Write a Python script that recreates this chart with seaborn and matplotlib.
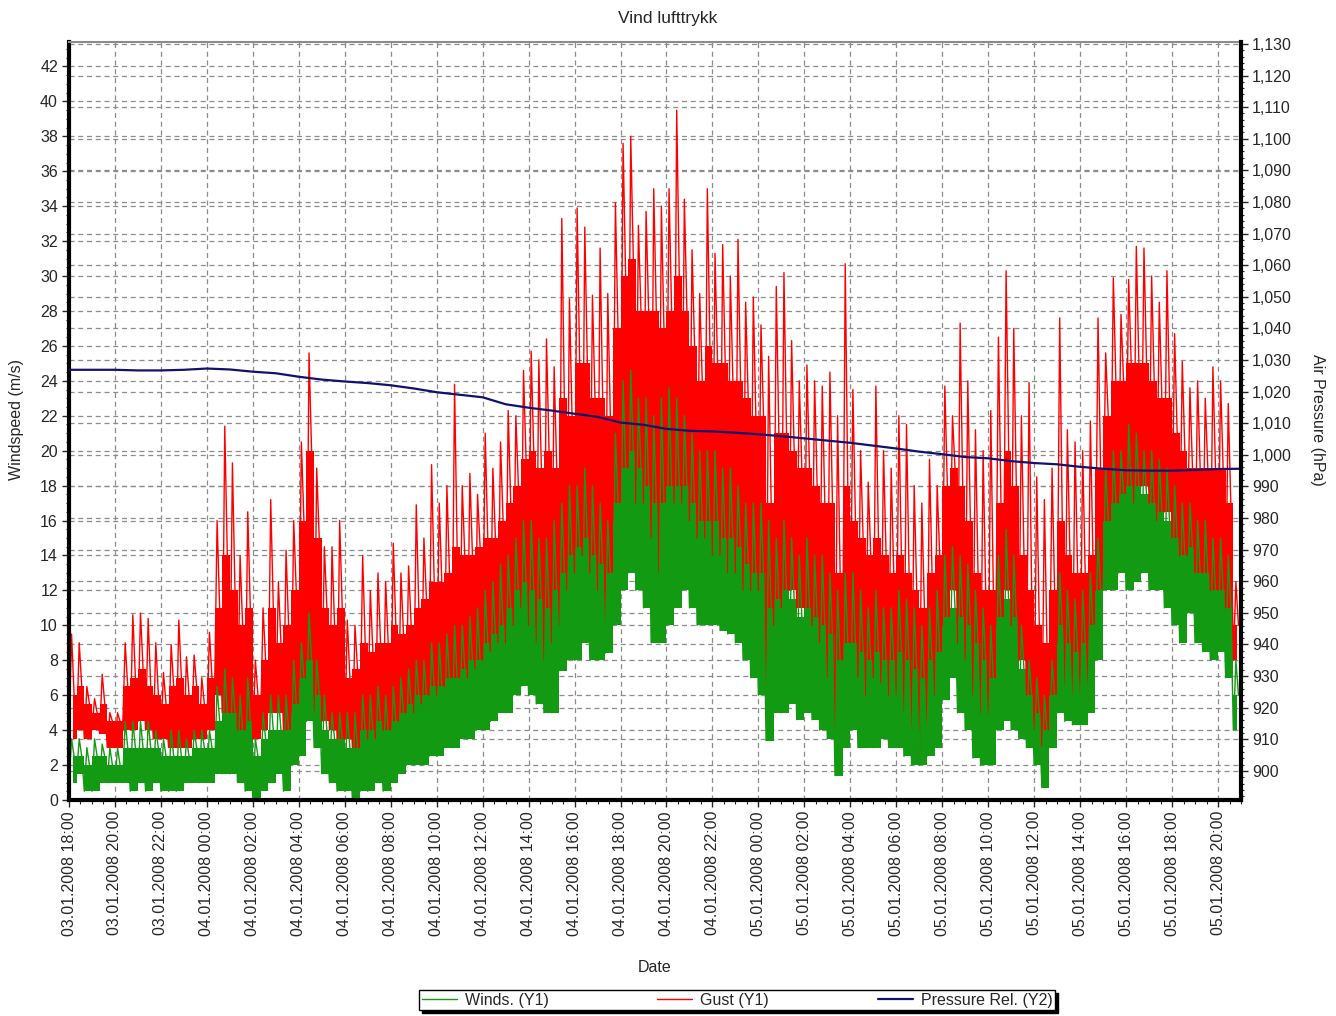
import numpy as np
import pandas as pd
import matplotlib
matplotlib.use("Agg")
import matplotlib.pyplot as plt
import matplotlib.dates as mdates
from matplotlib.ticker import MultipleLocator, FuncFormatter
import seaborn as sns

sns.set_style("white")
plt.rcParams['font.family'] = ['Liberation Sans', 'DejaVu Sans']

# 20 minute blocks from 03.01.2008 18:00 (m/s): lowest reading, highest spike,
# and the top of the dense part of the trace in each block
gust_high = [9.5, 9.0, 6.5, 5.8, 7.2, 5.0, 5.0, 9.0, 10.6, 10.7, 10.4, 9.0,
             7.3, 8.9, 10.3, 8.2, 8.3, 7.0, 9.6, 16.0, 21.4, 19.3, 14.0, 16.5,
             8.0, 11.0, 17.2, 12.5, 14.3, 16.0, 20.5, 25.6, 19.0, 14.5, 14.5, 16.0,
             10.3, 10.0, 14.0, 12.0, 13.0, 12.5, 14.7, 13.0, 13.4, 16.9, 15.0, 19.2,
             17.0, 18.0, 23.8, 18.0, 18.7, 17.5, 21.0, 19.0, 20.5, 22.3, 22.0, 24.6,
             25.7, 25.2, 26.4, 24.8, 33.3, 28.7, 33.9, 32.8, 28.9, 31.6, 29.0, 34.2,
             37.6, 38.0, 32.9, 33.7, 35.0, 34.0, 35.0, 39.5, 34.4, 31.5, 29.0, 35.0,
             31.3, 31.8, 30.0, 32.1, 28.5, 28.8, 27.2, 25.4, 29.4, 30.2, 26.3, 24.0,
             24.9, 24.0, 23.7, 24.5, 22.0, 30.7, 23.5, 20.0, 18.2, 23.7, 20.0, 19.0,
             22.0, 21.5, 18.0, 17.0, 19.5, 18.0, 23.7, 22.0, 27.3, 24.0, 21.2, 20.0,
             22.3, 26.5, 30.3, 27.0, 22.0, 23.9, 18.5, 17.2, 19.0, 27.6, 21.2, 20.5,
             20.0, 21.7, 27.6, 25.6, 29.9, 27.8, 29.8, 31.7, 31.6, 30.0, 28.5, 30.3,
             26.7, 25.1, 23.6, 24.0, 23.0, 24.8, 24.0, 22.7, 12.5]
gust_core = [6.0, 6.5, 5.5, 5.0, 5.5, 4.5, 4.5, 6.5, 7.0, 7.5, 6.5, 6.0,
             5.5, 6.5, 7.0, 6.0, 6.5, 5.5, 7.0, 11.0, 14.0, 12.0, 10.0, 11.0,
             6.0, 8.0, 11.0, 9.0, 10.0, 12.0, 16.0, 20.0, 15.0, 11.0, 10.0, 11.0,
             7.0, 7.5, 9.0, 8.5, 9.0, 9.0, 10.0, 9.5, 10.0, 11.0, 11.5, 12.5,
             12.5, 13.0, 14.5, 14.0, 14.0, 14.5, 15.0, 15.0, 16.0, 17.0, 18.0, 19.5,
             20.0, 19.0, 20.0, 19.0, 23.0, 22.0, 25.0, 25.0, 23.0, 23.0, 22.0, 27.0,
             30.0, 31.0, 28.0, 28.0, 28.0, 27.0, 28.0, 30.0, 28.0, 26.0, 24.0, 26.0,
             25.0, 25.0, 24.0, 24.0, 23.0, 22.0, 22.0, 17.0, 21.0, 21.0, 20.0, 19.0,
             19.0, 18.0, 17.0, 17.0, 13.0, 18.0, 16.0, 15.0, 14.0, 15.0, 14.0, 13.0,
             14.0, 13.0, 12.0, 11.0, 13.0, 14.0, 18.0, 19.0, 18.0, 16.0, 13.0, 12.0,
             12.0, 17.0, 20.0, 18.0, 14.0, 12.0, 10.0, 9.0, 12.0, 16.0, 14.0, 13.0,
             13.0, 14.0, 19.0, 22.0, 24.0, 24.0, 25.0, 25.0, 25.0, 24.0, 23.0, 23.0,
             21.0, 20.0, 19.0, 19.0, 19.0, 19.0, 19.0, 17.0, 10.0]
gust_low = [3.5, 4.0, 3.5, 4.0, 3.8, 3.0, 3.0, 4.0, 4.0, 4.5, 4.0, 3.5,
            3.5, 3.0, 3.0, 3.0, 3.5, 3.5, 4.0, 6.0, 5.0, 5.0, 4.0, 4.0,
            3.5, 4.0, 5.0, 5.0, 4.0, 5.0, 6.5, 8.0, 5.0, 4.5, 4.0, 3.5,
            3.5, 3.0, 4.0, 3.5, 3.5, 4.0, 4.0, 4.5, 5.0, 5.0, 5.5, 6.0,
            6.0, 6.5, 7.0, 7.0, 7.0, 7.5, 8.0, 8.5, 9.0, 9.0, 10.0, 11.0,
            10.0, 9.0, 8.0, 9.0, 10.0, 12.0, 13.0, 14.0, 13.0, 12.0, 10.0, 16.0,
            18.0, 19.0, 17.0, 17.0, 15.0, 13.0, 18.0, 17.0, 17.0, 16.0, 15.0, 15.0,
            14.0, 14.0, 13.0, 13.0, 12.0, 12.0, 12.0, 5.8, 10.0, 11.0, 12.0, 11.0,
            11.0, 10.0, 9.0, 7.0, 2.6, 8.0, 9.0, 7.0, 6.0, 7.0, 6.7, 6.0,
            6.0, 5.0, 4.0, 2.4, 4.0, 6.0, 10.0, 12.0, 9.0, 8.0, 6.0, 5.0,
            5.0, 10.0, 12.0, 10.0, 8.0, 6.0, 4.0, 3.1, 6.0, 9.0, 6.5, 6.0,
            6.0, 5.7, 12.0, 16.0, 17.0, 17.0, 18.0, 17.0, 18.0, 17.0, 16.0, 16.5,
            15.0, 14.0, 14.0, 13.0, 13.0, 12.0, 12.0, 11.0, 8.0]
wind_high = [3.5, 3.5, 3.0, 3.5, 3.2, 3.0, 3.0, 4.5, 4.5, 4.5, 4.5, 4.0,
             3.5, 4.0, 4.0, 3.5, 4.0, 4.0, 4.0, 6.5, 7.5, 7.0, 6.0, 7.0,
             3.5, 5.0, 6.0, 6.0, 6.0, 8.0, 9.0, 10.7, 8.0, 6.0, 5.0, 5.0,
             5.0, 5.0, 6.0, 6.0, 6.5, 6.0, 6.5, 7.0, 7.5, 8.0, 8.0, 9.0,
             9.0, 9.5, 10.0, 10.0, 10.5, 11.0, 12.0, 12.5, 13.5, 14.0, 15.0, 16.0,
             16.0, 15.0, 15.0, 16.0, 17.0, 18.0, 18.0, 19.0, 18.0, 17.0, 16.0, 21.0,
             24.0, 24.6, 23.0, 23.0, 22.0, 23.0, 23.6, 23.0, 22.0, 21.0, 20.0, 20.0,
             20.0, 19.0, 19.0, 18.0, 17.0, 17.0, 17.0, 16.0, 15.0, 16.0, 15.0, 14.0,
             15.0, 14.0, 14.0, 13.0, 12.0, 13.0, 13.0, 12.0, 11.0, 12.0, 11.0, 11.0,
             12.0, 11.5, 11.0, 10.0, 11.0, 12.0, 14.0, 14.5, 14.0, 13.5, 12.0, 11.0,
             10.0, 14.0, 15.5, 14.0, 10.0, 8.0, 7.0, 6.0, 8.0, 13.0, 12.0, 11.5,
             12.0, 13.0, 15.0, 19.0, 20.0, 20.0, 21.5, 21.0, 20.0, 20.0, 19.5, 19.0,
             18.0, 17.0, 17.0, 16.0, 16.0, 15.0, 15.0, 14.0, 8.0]
wind_core = [2.5, 2.5, 2.0, 2.5, 2.5, 2.0, 2.0, 3.0, 3.0, 3.0, 3.0, 3.0,
             2.5, 2.5, 2.5, 2.5, 3.0, 3.0, 3.0, 4.5, 5.0, 5.0, 4.0, 4.5,
             2.5, 3.5, 4.0, 4.0, 4.0, 5.5, 7.0, 8.0, 6.0, 4.0, 3.5, 3.5,
             3.0, 3.0, 4.0, 4.0, 4.5, 4.0, 4.5, 5.0, 5.5, 6.0, 6.0, 6.5,
             6.5, 7.0, 7.0, 7.5, 8.0, 8.0, 9.0, 9.5, 10.0, 11.0, 12.0, 12.5,
             12.0, 11.5, 11.0, 12.0, 13.0, 14.0, 14.5, 15.0, 14.0, 13.5, 13.0, 17.0,
             19.0, 20.0, 19.0, 18.0, 17.0, 17.0, 18.0, 18.0, 18.0, 17.0, 16.0, 16.0,
             16.0, 15.0, 15.0, 14.5, 13.5, 13.0, 13.0, 11.0, 11.5, 12.0, 11.5, 10.5,
             11.0, 10.5, 10.0, 9.5, 8.0, 9.0, 9.0, 8.5, 8.0, 8.5, 8.0, 8.0,
             8.5, 8.0, 7.5, 7.0, 8.0, 8.5, 10.5, 11.0, 10.5, 10.0, 9.0, 8.0,
             7.0, 10.5, 11.5, 10.5, 7.5, 6.0, 5.0, 4.0, 6.0, 10.0, 9.0, 8.5,
             9.0, 10.0, 12.0, 16.0, 17.0, 17.5, 18.0, 18.0, 17.5, 17.0, 16.5, 16.0,
             15.0, 14.0, 14.5, 13.0, 13.0, 12.0, 12.0, 11.0, 6.0]
wind_low = [1.0, 1.5, 0.5, 0.5, 1.0, 1.0, 1.0, 1.0, 0.5, 1.0, 0.5, 1.0,
            0.5, 0.5, 0.5, 1.0, 1.0, 1.0, 1.0, 1.5, 1.5, 1.5, 1.0, 0.5,
            0.0, 0.5, 1.0, 1.5, 0.5, 2.0, 2.5, 4.5, 3.0, 1.5, 1.0, 0.5,
            0.5, 0.0, 0.5, 0.5, 1.0, 0.5, 1.0, 1.5, 2.0, 2.0, 2.0, 2.5,
            2.5, 3.0, 3.0, 3.5, 3.5, 4.0, 4.0, 4.5, 5.0, 5.0, 6.0, 6.5,
            6.0, 5.5, 5.0, 5.0, 7.4, 8.0, 8.0, 9.0, 8.0, 8.0, 8.4, 10.0,
            12.0, 13.0, 12.0, 11.0, 9.0, 9.0, 10.0, 11.0, 12.0, 11.0, 10.0, 10.0,
            10.0, 9.7, 9.5, 9.0, 8.0, 7.0, 6.0, 3.4, 5.0, 5.0, 5.5, 4.6,
            5.0, 4.6, 4.0, 3.5, 1.4, 3.0, 4.0, 3.0, 3.0, 3.0, 3.5, 3.0,
            3.0, 2.5, 2.0, 2.0, 2.5, 3.0, 5.7, 7.0, 5.0, 4.0, 2.4, 2.0,
            2.0, 4.0, 4.5, 4.0, 3.5, 3.0, 2.0, 0.7, 3.0, 5.0, 4.5, 4.3,
            4.3, 5.0, 8.0, 12.0, 12.0, 13.0, 12.0, 12.5, 13.0, 12.0, 12.0, 11.0,
            10.0, 9.0, 10.7, 9.0, 8.5, 8.0, 8.5, 7.0, 4.0]
# hourly relative pressure (hPa)
pressure = [1026.9, 1026.9, 1026.9, 1026.7, 1026.7, 1026.9, 1027.3, 1027.0, 1026.3, 1025.8,
            1024.7, 1023.8, 1023.2, 1022.7, 1022.0, 1021.0, 1019.8, 1019.0, 1018.2, 1016.0,
            1014.9, 1014.0, 1013.0, 1012.0, 1010.2, 1009.5, 1008.2, 1007.6, 1007.4, 1007.0,
            1006.5, 1005.9, 1005.2, 1004.5, 1003.8, 1002.9, 1002.0, 1001.0, 1000.2, 999.3,
            998.9, 998.0, 997.4, 997.0, 996.2, 995.6, 995.1, 995.0, 995.0, 995.2,
            995.5, 995.6]

start = pd.Timestamp("2008-01-03 18:00")
end = pd.Timestamp("2008-01-05 21:00")
wind_df = pd.DataFrame({
    "Date": pd.date_range(start, periods=3 * len(gust_high), freq="400s"),
    "Gust": np.column_stack([gust_low, gust_high, gust_core]).ravel(),
    "Wind": np.column_stack([wind_low, wind_high, wind_core]).ravel(),
})
block_df = pd.DataFrame({
    "Date": pd.date_range(start + pd.Timedelta("10min"), periods=len(gust_high), freq="20min"),
    "gust_low": gust_low, "gust_core": gust_core,
    "wind_low": wind_low, "wind_core": wind_core,
})
press_df = pd.DataFrame({
    "Date": pd.date_range(start, periods=len(pressure), freq="h"),
    "Pressure": pressure,
})

RED = "#ff0000"
GREEN = "#139a13"

fig = plt.figure(figsize=(13.36, 10.16), dpi=100)
ax = fig.add_axes([69 / 1336, 216 / 1016, 1172 / 1336, 758 / 1016])
ax_g = ax.twinx()   # only carries the right-hand grid, sits behind
ax2 = ax.twinx()    # pressure on top
ax_g.set_zorder(0)
ax.set_zorder(1)
ax2.set_zorder(2)
ax.patch.set_visible(False)
ax2.patch.set_visible(False)
ax_g.patch.set_facecolor("white")

# dense body of each trace, then the spikes on top
ax.fill_between(block_df["Date"], block_df["gust_low"], block_df["gust_core"],
                step="mid", color=RED, lw=0)
sns.lineplot(data=wind_df, x="Date", y="Gust", ax=ax, color=RED, lw=1.0,
             estimator=None, label="Gust (Y1)")
ax.fill_between(block_df["Date"], block_df["wind_low"], block_df["wind_core"],
                step="mid", color=GREEN, lw=0)
sns.lineplot(data=wind_df, x="Date", y="Wind", ax=ax, color=GREEN, lw=1.0,
             estimator=None, label="Winds. (Y1)")
sns.lineplot(data=press_df, x="Date", y="Pressure", ax=ax2, color="#12126e", lw=1.6,
             estimator=None, label="Pressure Rel. (Y2)")

h1, l1 = ax.get_legend_handles_labels()
h2, l2 = ax2.get_legend_handles_labels()
for a in (ax, ax2):
    if a.get_legend() is not None:
        a.get_legend().remove()

grid_kw = dict(color="#8c8c8c", linestyle=(0, (4, 3)), linewidth=0.9)

ax.set_xlim(start, end)
ax.set_ylim(0, 43.4)
ax2.set_ylim(890.8, 1130.6)
ax_g.set_ylim(890.8, 1130.6)

ax.xaxis.set_major_locator(mdates.HourLocator(byhour=range(0, 24, 2)))
ax.xaxis.set_minor_locator(mdates.MinuteLocator(byminute=[0, 30]))
ax.xaxis.set_major_formatter(mdates.DateFormatter("%d.%m.%Y %H:%M"))
ax.yaxis.set_major_locator(MultipleLocator(2))
ax.yaxis.set_minor_locator(MultipleLocator(0.5))
ax2.set_yticks(np.arange(900, 1131, 10))
ax2.yaxis.set_minor_locator(MultipleLocator(2))
ax2.yaxis.set_major_formatter(FuncFormatter(lambda v, p: f"{v:,.0f}"))
ax_g.set_yticks(np.arange(900, 1131, 10))

ax.grid(True, which="major", **grid_kw)
ax_g.grid(True, axis="y", **grid_kw)
ax_g.tick_params(right=False, labelright=False)

ax.tick_params(axis="x", which="major", direction="out", length=5, width=1, labelsize=11.5,
               rotation=90, pad=3, bottom=True)
ax.tick_params(axis="x", which="minor", direction="out", length=3, width=0.8, bottom=True)
ax.tick_params(axis="y", which="major", direction="out", length=5, width=1, labelsize=11.5,
               left=True, pad=3)
ax.tick_params(axis="y", which="minor", direction="out", length=2.5, width=0.8, left=True)
ax2.tick_params(axis="y", which="major", direction="out", length=5, width=1, labelsize=11.5,
                right=True, pad=3)
ax2.tick_params(axis="y", which="minor", direction="out", length=2.5, width=0.8, right=True)
ax.set_xlabel("")
ax.set_ylabel("")
ax2.set_ylabel("")

for a in (ax, ax_g, ax2):
    for s in a.spines.values():
        s.set_visible(False)
ax.spines["left"].set_visible(True)
ax.spines["left"].set_linewidth(3)
ax.spines["left"].set_color("black")
ax.spines["bottom"].set_visible(True)
ax.spines["bottom"].set_linewidth(3)
ax.spines["bottom"].set_color("black")
ax.spines["top"].set_visible(True)
ax.spines["top"].set_linewidth(1.5)
ax.spines["top"].set_color("#8c8c8c")
ax2.spines["right"].set_visible(True)
ax2.spines["right"].set_linewidth(3)
ax2.spines["right"].set_color("black")

fig.text(668 / 1336, 1 - 18 / 1016, "Vind lufttrykk", ha="center", va="center", fontsize=12.5)
fig.text(655 / 1336, 1 - 968 / 1016, "Date", ha="center", va="center", fontsize=11.5)
fig.text(17 / 1336, 1 - 420 / 1016, "Windspeed (m/s)", ha="center", va="center",
         rotation=90, fontsize=11.5)
fig.text(1318 / 1336, 1 - 420 / 1016, "Air Pressure (hPa)", ha="center", va="center",
         rotation=270, fontsize=11.5)

handles = [h1[l1.index("Winds. (Y1)")], h1[l1.index("Gust (Y1)")], h2[0]]
labels = ["Winds. (Y1)", "Gust (Y1)", "Pressure Rel. (Y2)"]
leg = fig.legend(handles, labels, loc="center", bbox_to_anchor=(737 / 1336, 1 - 1000 / 1016),
                 ncol=3, frameon=True, fancybox=False, shadow={"color": "black", "alpha": 1},
                 edgecolor="black", framealpha=1, borderpad=0.15, handlelength=2.2,
                 handletextpad=0.5, columnspacing=6.8, fontsize=11.5)
leg.get_frame().set_linewidth(1)

fig.savefig("out.png", dpi=100)
